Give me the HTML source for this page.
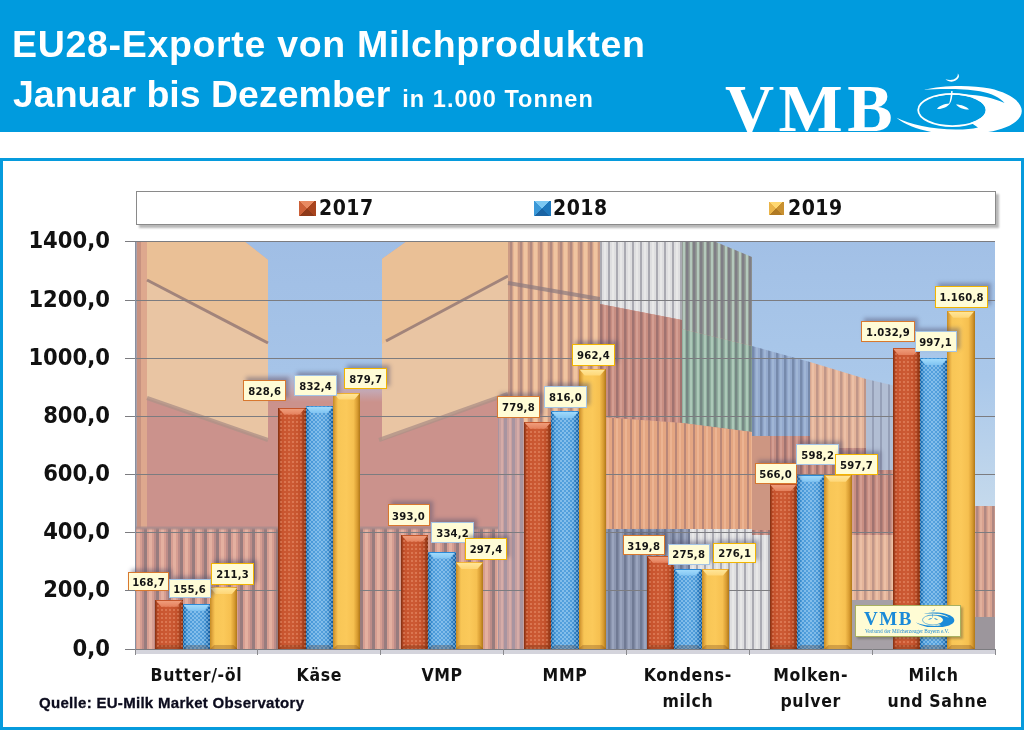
<!DOCTYPE html>
<html><head><meta charset="utf-8"><title>EU28-Exporte von Milchprodukten</title>
<style>
*{margin:0;padding:0;box-sizing:border-box}
html,body{width:1024px;height:730px;overflow:hidden;background:#fff}
body{position:relative;font-family:"Liberation Sans",sans-serif}
.banner{position:absolute;left:0;top:0;width:1024px;height:132px;background:#009bde}
.t1,.t2{position:absolute;color:#fff;font-weight:bold;white-space:nowrap;font-family:"Liberation Sans",sans-serif}
.t1{left:12px;top:23px;font-size:37.5px;letter-spacing:0.68px;line-height:42px}
.t2{left:13px;top:72.5px;font-size:37.5px;line-height:42px}
.t2 small{font-size:23.5px;letter-spacing:1.05px;margin-left:12px}
.vmb{position:absolute;left:725px;top:74px;font-family:"Liberation Serif",serif;font-weight:bold;font-size:68px;color:#fff;letter-spacing:4.5px;line-height:68px;height:58px;overflow:hidden}
.swirl{position:absolute;left:894px;top:72px}
.frame{position:absolute;left:0;top:158px;width:1024px;height:572px;border:3px solid #069bdd}
.legend{position:absolute;left:136px;top:191px;width:860px;height:34px;background:#fff;border:1px solid #8a8a8a;box-shadow:3px 3px 2px #b8b8b8}
.li{position:absolute}
.lr{background:conic-gradient(from -45deg,#e88a62 0 90deg,#a8441e 90deg 180deg,#8e3a1a 180deg 270deg,#cc6038 270deg 360deg)}
.lbl{background:conic-gradient(from -45deg,#7cc8f2 0 90deg,#1f78bc 90deg 180deg,#1a64a4 180deg 270deg,#3a98d8 270deg 360deg)}
.ly{background:conic-gradient(from -45deg,#ffd870 0 90deg,#c89030 90deg 180deg,#b07a24 180deg 270deg,#eab448 270deg 360deg)}
.lt{position:absolute;top:4px;font:bold 21px "DejaVu Sans Condensed","DejaVu Sans",sans-serif;font-stretch:condensed;color:#111;letter-spacing:0.5px}
.photo{position:absolute;left:135px;top:242px}
.gl{position:absolute;left:135px;width:860px;height:1px;background:#7c7c80}
.yt{position:absolute;left:125px;width:10px;height:1px;background:#7c7c80}
.yl{position:absolute;left:10px;width:100px;text-align:right;font:bold 23.5px "DejaVu Sans Condensed","DejaVu Sans",sans-serif;font-stretch:condensed;color:#111;line-height:26px}
.xl{position:absolute;top:663.2px;width:120px;text-align:center;font:bold 17.5px "DejaVu Sans Condensed","DejaVu Sans",sans-serif;font-stretch:condensed;color:#111;line-height:25.6px;letter-spacing:0.65px}
.xt{position:absolute;top:649px;width:1px;height:6px;background:#8a8a8e}
.axis{position:absolute;left:125px;top:649px;width:870px;height:1px;background:#7c7c80}
.axsh{position:absolute;left:135px;top:650px;width:860px;height:4px;background:#d4d4dc}
.vax{position:absolute;left:135px;top:242px;width:1px;height:408px;background:#8890a0}
.bar{position:absolute}
.bar.r{background:radial-gradient(circle,rgba(255,185,150,0.32) 0 0.7px,transparent 1px) 1px 0/4px 4px,linear-gradient(90deg,#7e3012 0,#a8401e 1.5px,#c8542e 4px,#cc5a34 50%,#c4522c 78%,#9c3c1a 94%,#7a2e10 100%)}
.bar.b{background:radial-gradient(circle,rgba(200,232,255,0.42) 0 0.7px,transparent 1px) 0 0/4px 4px,radial-gradient(circle,rgba(200,232,255,0.42) 0 0.7px,transparent 1px) 2px 2px/4px 4px,linear-gradient(90deg,#145c9c 0,#2278bc 2px,#4898d8 4.5px,#56a2de 50%,#4a98d6 78%,#2270b4 92%,#145896 100%)}
.bar.y{background:linear-gradient(90deg,#c48a24 0,#e2a840 2.5px,#f8c656 5px,#fbc95a 50%,#f6c050 76%,#d89c32 90%,#b07818 100%)}
.bar::before{content:"";position:absolute;left:0;right:0;top:0;height:7px;clip-path:polygon(0 0,100% 0,calc(100% - 6px) 100%,6px 100%)}
.bar.r::before{background:linear-gradient(180deg,#c4562c 0,#c4562c 1px,#ee9a78 1.5px,#e4805c 100%)}
.bar.b::before{background:linear-gradient(180deg,#2a8ad8 0,#2a8ad8 1px,#9ed8fa 1.5px,#80c4f2 100%)}
.bar.y::before{background:linear-gradient(180deg,#f0b030 0,#f0b030 1px,#ffe494 1.5px,#fed676 100%)}
.bar::after{content:"";position:absolute;left:0;right:0;bottom:0;height:4px;background:rgba(90,40,10,0.25);clip-path:polygon(4px 0,calc(100% - 4px) 0,100% 100%,0 100%)}
.li::before,.li::after{display:none}
.lb{position:absolute;background:#fffcd6;border:1.5px solid;font:bold 11.2px "DejaVu Sans Condensed","DejaVu Sans",sans-serif;font-stretch:condensed;color:#141414;text-align:center;display:flex;align-items:center;justify-content:center;padding-top:1.5px;letter-spacing:0.2px;box-shadow:3px -3px 4px rgba(80,80,110,0.45)}
.quelle{position:absolute;left:39px;top:694px;font:bold 15px "Liberation Sans",sans-serif;letter-spacing:0.3px;color:#0c0c1e;-webkit-text-stroke:0.3px #0c0c1e}
.slogo{position:absolute;left:855px;top:605px;width:106px;height:32px;background:#fffcd4;border:1.5px solid #a8b060;box-shadow:2px 2px 2px rgba(80,80,60,0.4)}
.slogo .v{position:absolute;left:8px;top:2px;font:bold 19px "Liberation Serif",serif;color:#1a8ad8;letter-spacing:1.6px}
.slogo svg{position:absolute;left:59px;top:2px}
.slogo .s{position:absolute;left:9px;top:21.5px;font:5.3px "Liberation Serif",serif;color:#1a8ad8;white-space:nowrap;letter-spacing:0px}
</style></head><body>
<div class="banner"></div>
<div class="t1">EU28-Exporte von Milchprodukten</div>
<div class="t2">Januar bis Dezember<small>in 1.000 Tonnen</small></div>
<div class="vmb">VMB</div>
<svg class="swirl" width="130" height="60" viewBox="0 0 130 60">
<path fill="#fff" d="M51.5,7.2 C55,10.8 62,10.6 64.6,5.6 C65.3,4.2 65,2.8 63.8,1.6 C64.4,6.2 59,9.6 51.5,7.2 Z"/>
<path fill="#fff" d="M30.5,17.6 C46,13.6 76,12.2 96,16.6 C113,20.5 127.8,28.5 127.8,39 C127.8,50 110,58.6 90,60.5 L40,60.5 C25,58 10,52.5 2.5,45.8 C15,52.2 38,57.4 62,57.6 C72,57.6 78,57 84,55.5 L58.4,38 Z"/>
<ellipse cx="58.4" cy="38" rx="33.4" ry="15.3" fill="#009bde"/>
<path fill="#009bde" d="M30.5,17.6 C46,16.6 70,16.4 86,19.2 C98,21.5 106,25.5 110.5,31 C100,26 86,23 70,22.2 L58,22 C44,22.4 34,25.5 27,30 L22,30 Z"/>
<ellipse cx="58.4" cy="38" rx="34.2" ry="16.1" fill="none" stroke="#fff" stroke-width="1.8"/>
<path fill="#fff" d="M57.2,19 L58.6,19 C58.6,24.5 57.6,29 55.8,31.8 C53.5,35 48,37.5 43,37 C45,34 50.5,32 55.2,31.6 C56.2,28 56.9,23.5 57.2,19 Z"/>
<path fill="#fff" d="M62,32.4 C67,32.4 73,34.5 75,37.6 C70,37.8 64.5,35.5 62,32.4 Z"/>
</svg>
<div class="frame"></div>
<div class="legend">
<div class="li lr" style="left:162px;top:9px;width:17px;height:15px"></div><div class="lt" style="left:182px">2017</div>
<div class="li lbl" style="left:397px;top:8.5px;width:17px;height:15.5px"></div><div class="lt" style="left:416px">2018</div>
<div class="li ly" style="left:632px;top:9.5px;width:15px;height:13px"></div><div class="lt" style="left:651px">2019</div>
</div>
<svg class="photo" width="860" height="408" viewBox="135 242 860 408">
<defs><pattern id="pStr" width="12" height="10" patternUnits="userSpaceOnUse"><rect x="0" y="0" width="12" height="10" fill="rgb(214,158,146)"/><rect x="0" y="0" width="3" height="10" fill="rgb(152,124,126)"/><rect x="5" y="0" width="3" height="10" fill="rgb(228,176,160)"/><rect x="10" y="0" width="2" height="10" fill="rgb(188,140,136)"/></pattern><pattern id="pOr" width="10" height="10" patternUnits="userSpaceOnUse"><rect x="0" y="0" width="10" height="10" fill="rgb(232,182,148)"/><rect x="0" y="0" width="2.5" height="10" fill="rgb(178,138,128)"/><rect x="4" y="0" width="3" height="10" fill="rgb(240,196,160)"/><rect x="8" y="0" width="2" height="10" fill="rgb(205,155,132)"/></pattern><pattern id="pOr2" width="9" height="10" patternUnits="userSpaceOnUse"><rect x="0" y="0" width="9" height="10" fill="rgb(228,166,130)"/><rect x="0" y="0" width="2" height="10" fill="rgb(185,135,120)"/><rect x="4" y="0" width="2" height="10" fill="rgb(236,180,146)"/></pattern><pattern id="pWh" width="8" height="10" patternUnits="userSpaceOnUse"><rect x="0" y="0" width="8" height="10" fill="rgb(222,222,224)"/><rect x="0" y="0" width="2" height="10" fill="rgb(170,170,178)"/><rect x="4" y="0" width="2" height="10" fill="rgb(232,232,232)"/></pattern><pattern id="pRd" width="8" height="10" patternUnits="userSpaceOnUse"><rect x="0" y="0" width="8" height="10" fill="rgb(200,142,130)"/><rect x="0" y="0" width="2.5" height="10" fill="rgb(160,115,112)"/><rect x="4" y="0" width="2" height="10" fill="rgb(212,158,146)"/></pattern><pattern id="pGd" width="7" height="10" patternUnits="userSpaceOnUse"><rect x="0" y="0" width="7" height="10" fill="rgb(150,160,152)"/><rect x="0" y="0" width="2.5" height="10" fill="rgb(128,126,134)"/><rect x="4" y="0" width="2" height="10" fill="rgb(180,200,188)"/></pattern><pattern id="pGl" width="7" height="10" patternUnits="userSpaceOnUse"><rect x="0" y="0" width="7" height="10" fill="rgb(146,176,160)"/><rect x="0" y="0" width="2.5" height="10" fill="rgb(118,136,132)"/><rect x="4" y="0" width="2" height="10" fill="rgb(172,200,184)"/></pattern><pattern id="pBg" width="8" height="10" patternUnits="userSpaceOnUse"><rect x="0" y="0" width="8" height="10" fill="rgb(140,150,176)"/><rect x="0" y="0" width="2.5" height="10" fill="rgb(112,122,148)"/><rect x="4" y="0" width="2" height="10" fill="rgb(155,165,190)"/></pattern><pattern id="pBc" width="8" height="10" patternUnits="userSpaceOnUse"><rect x="0" y="0" width="8" height="10" fill="rgb(148,170,206)"/><rect x="0" y="0" width="2.5" height="10" fill="rgb(118,138,172)"/><rect x="4" y="0" width="2" height="10" fill="rgb(160,182,214)"/></pattern><pattern id="pOc" width="8" height="10" patternUnits="userSpaceOnUse"><rect x="0" y="0" width="8" height="10" fill="rgb(228,180,154)"/><rect x="0" y="0" width="2.5" height="10" fill="rgb(192,150,136)"/><rect x="4" y="0" width="2" height="10" fill="rgb(236,192,166)"/></pattern><pattern id="pLb" width="8" height="10" patternUnits="userSpaceOnUse"><rect x="0" y="0" width="8" height="10" fill="rgb(178,190,212)"/><rect x="0" y="0" width="2" height="10" fill="rgb(150,160,184)"/></pattern><pattern id="pMv" width="8" height="10" patternUnits="userSpaceOnUse"><rect x="0" y="0" width="8" height="10" fill="rgb(198,160,160)"/><rect x="0" y="0" width="3" height="10" fill="rgb(168,148,160)"/><rect x="5" y="0" width="2" height="10" fill="rgb(214,172,168)"/></pattern><pattern id="pPk" width="8" height="10" patternUnits="userSpaceOnUse"><rect x="0" y="0" width="8" height="10" fill="rgb(216,162,144)"/><rect x="0" y="0" width="2.5" height="10" fill="rgb(176,136,130)"/><rect x="4" y="0" width="2" height="10" fill="rgb(226,176,156)"/></pattern><linearGradient id="gSky1" x1="0" y1="242" x2="0" y2="402" gradientUnits="userSpaceOnUse"><stop offset="0" stop-color="rgb(160,190,229)"/><stop offset="0.81" stop-color="rgb(166,196,232)"/><stop offset="0.93" stop-color="rgb(196,168,180)"/><stop offset="1" stop-color="rgb(203,146,140)"/></linearGradient><linearGradient id="gSky2" x1="0" y1="242" x2="0" y2="512" gradientUnits="userSpaceOnUse"><stop offset="0" stop-color="rgb(162,192,230)"/><stop offset="0.5" stop-color="rgb(170,200,234)"/><stop offset="1" stop-color="rgb(198,218,236)"/></linearGradient></defs>
<rect x="135" y="242" width="860" height="408" fill="rgb(203,146,140)"/>
<rect x="752" y="242" width="243" height="272" fill="url(#gSky2)"/>
<polygon points="245,242 406,242 382,259 382,402 268,402 268,260" fill="url(#gSky1)" />
<polygon points="135,242 245,242 268,260 268,440 135,394" fill="rgb(233,197,163)" />
<polygon points="135,242 245,242 268,260 268,343 147,280 135,275" fill="rgb(234,192,150)" />
<rect x="135" y="242" width="12" height="290" fill="rgb(222,168,142)"/>
<rect x="135" y="242" width="6" height="290" fill="rgb(200,146,128)"/>
<rect x="135" y="242" width="2" height="408" fill="rgb(170,160,170)"/>
<line x1="147" y1="280" x2="268" y2="343" stroke="rgb(150,122,118)" stroke-width="3" opacity="0.85"/>
<line x1="147" y1="398" x2="268" y2="440" stroke="rgb(176,146,136)" stroke-width="4" opacity="0.8"/>
<polygon points="406,242 508,242 508,394 382,440 382,259" fill="rgb(233,197,163)" />
<polygon points="406,242 508,242 508,276 382,344 382,259" fill="rgb(234,192,150)" />
<line x1="386" y1="341" x2="508" y2="276" stroke="rgb(150,122,118)" stroke-width="3" opacity="0.85"/>
<line x1="379" y1="440" x2="508" y2="394" stroke="rgb(176,146,136)" stroke-width="4" opacity="0.8"/>
<rect x="135" y="528" width="373" height="122" fill="url(#pStr)"/>
<line x1="135" y1="528" x2="508" y2="528" stroke="rgb(170,140,140)" stroke-width="3" opacity="0.8"/>
<rect x="508" y="242" width="92" height="408" fill="url(#pOr)"/>
<line x1="508" y1="283" x2="600" y2="299" stroke="rgb(140,122,126)" stroke-width="4" opacity="0.7"/>
<rect x="498" y="396" width="26" height="254" fill="url(#pMv)"/>
<polygon points="600,242 682,242 682,320 600,304" fill="url(#pWh)" />
<polygon points="600,304 682,320 682,423 600,417" fill="url(#pRd)" />
<polygon points="600,417 682,423 682,529 600,529" fill="url(#pOr2)" />
<rect x="600" y="529" width="90" height="121" fill="url(#pBg)"/>
<polygon points="682,242 752,242 752,346 682,329" fill="url(#pGd)" />
<polygon points="716,242 752,242 752,257" fill="url(#gSky2)" />
<polygon points="682,329 752,346 752,432 682,423" fill="url(#pGl)" />
<polygon points="682,423 752,432 752,529 682,529" fill="url(#pOr2)" />
<rect x="690" y="529" width="80" height="121" fill="url(#pWh)"/>
<polygon points="752,346 810,362 810,436 752,436" fill="url(#pBc)" />
<polygon points="810,362 866,379 866,448 810,448" fill="url(#pOc)" />
<polygon points="866,379 900,387 900,470 866,470" fill="url(#pLb)" />
<polygon points="752,436 810,436 810,448 866,448 866,470 900,470 900,535 752,535" fill="url(#pRd)" />
<rect x="752" y="436" width="18" height="94" fill="rgb(205,150,130)"/>
<rect x="770" y="535" width="130" height="65" fill="url(#pOc)"/>
<rect x="770" y="600" width="130" height="50" fill="rgb(166,160,166)"/>
<rect x="974" y="506" width="21" height="111" fill="url(#pPk)"/>
<rect x="974" y="617" width="21" height="33" fill="rgb(156,150,156)"/>
</svg>
<div class="gl" style="top:590px"></div>
<div class="gl" style="top:532px"></div>
<div class="gl" style="top:474px"></div>
<div class="gl" style="top:416px"></div>
<div class="gl" style="top:358px"></div>
<div class="gl" style="top:300px"></div>
<div class="gl" style="top:241px"></div>
<div class="vax"></div>
<div class="bar r" style="left:155.3px;top:599.8px;width:27.4px;height:49.2px"></div>
<div class="bar b" style="left:182.7px;top:603.7px;width:27.4px;height:45.3px"></div>
<div class="bar y" style="left:210.1px;top:587.4px;width:27.4px;height:61.6px"></div>
<div class="bar r" style="left:278.2px;top:407.5px;width:27.4px;height:241.5px"></div>
<div class="bar b" style="left:305.6px;top:406.4px;width:27.4px;height:242.6px"></div>
<div class="bar y" style="left:333.0px;top:392.6px;width:27.4px;height:256.4px"></div>
<div class="bar r" style="left:401.0px;top:534.5px;width:27.4px;height:114.5px"></div>
<div class="bar b" style="left:428.4px;top:551.6px;width:27.4px;height:97.4px"></div>
<div class="bar y" style="left:455.8px;top:562.3px;width:27.4px;height:86.7px"></div>
<div class="bar r" style="left:523.9px;top:421.7px;width:27.4px;height:227.3px"></div>
<div class="bar b" style="left:551.3px;top:411.2px;width:27.4px;height:237.8px"></div>
<div class="bar y" style="left:578.7px;top:368.5px;width:27.4px;height:280.5px"></div>
<div class="bar r" style="left:646.8px;top:555.8px;width:27.4px;height:93.2px"></div>
<div class="bar b" style="left:674.2px;top:568.6px;width:27.4px;height:80.4px"></div>
<div class="bar y" style="left:701.6px;top:568.5px;width:27.4px;height:80.5px"></div>
<div class="bar r" style="left:769.6px;top:484.1px;width:27.4px;height:164.9px"></div>
<div class="bar b" style="left:797.0px;top:474.7px;width:27.4px;height:174.3px"></div>
<div class="bar y" style="left:824.4px;top:474.8px;width:27.4px;height:174.2px"></div>
<div class="bar r" style="left:892.5px;top:348.0px;width:27.4px;height:301.0px"></div>
<div class="bar b" style="left:919.9px;top:358.4px;width:27.4px;height:290.6px"></div>
<div class="bar y" style="left:947.3px;top:310.7px;width:27.4px;height:338.3px"></div>
<div class="slogo"><div class="v">VMB</div><svg width="40" height="19" viewBox="0 0 130 60">
<path fill="#1a8ad8" d="M51.5,7.2 C55,10.8 62,10.6 64.6,5.6 C65.3,4.2 65,2.8 63.8,1.6 C64.4,6.2 59,9.6 51.5,7.2 Z"/>
<path fill="#1a8ad8" d="M30.5,17.6 C46,13.6 76,12.2 96,16.6 C113,20.5 127.8,28.5 127.8,39 C127.8,50 110,58.6 90,60.5 L40,60.5 C25,58 10,52.5 2.5,45.8 C15,52.2 38,57.4 62,57.6 C72,57.6 78,57 84,55.5 L58.4,38 Z"/>
<ellipse cx="58.4" cy="38" rx="33.4" ry="15.3" fill="#fffcd4"/>
<path fill="#fffcd4" d="M30.5,17.6 C46,16.6 70,16.4 86,19.2 C98,21.5 106,25.5 110.5,31 C100,26 86,23 70,22.2 L58,22 C44,22.4 34,25.5 27,30 L22,30 Z"/>
<ellipse cx="58.4" cy="38" rx="34.2" ry="16.1" fill="none" stroke="#1a8ad8" stroke-width="1.8"/>
<path fill="#1a8ad8" d="M57.2,19 L58.6,19 C58.6,24.5 57.6,29 55.8,31.8 C53.5,35 48,37.5 43,37 C45,34 50.5,32 55.2,31.6 C56.2,28 56.9,23.5 57.2,19 Z"/>
<path fill="#1a8ad8" d="M62,32.4 C67,32.4 73,34.5 75,37.6 C70,37.8 64.5,35.5 62,32.4 Z"/>
</svg><div class="s">Verband der Milcherzeuger Bayern e.V.</div></div>
<div class="lb" style="left:127.7px;top:571.6px;width:41.8px;height:19.9px;border-color:#d8782e">168,7</div>
<div class="lb" style="left:168.6px;top:578.5px;width:42.0px;height:19.9px;border-color:#a4c4e6">155,6</div>
<div class="lb" style="left:211.3px;top:563.0px;width:42.5px;height:22.0px;border-color:#f2b400">211,3</div>
<div class="lb" style="left:243.1px;top:380.3px;width:43.3px;height:20.3px;border-color:#d8782e">828,6</div>
<div class="lb" style="left:294.4px;top:375.3px;width:42.5px;height:20.3px;border-color:#a4c4e6">832,4</div>
<div class="lb" style="left:344.2px;top:368.1px;width:43.0px;height:20.8px;border-color:#f2b400">879,7</div>
<div class="lb" style="left:387.5px;top:504.4px;width:42.0px;height:21.9px;border-color:#d8782e">393,0</div>
<div class="lb" style="left:431.3px;top:521.9px;width:42.7px;height:21.6px;border-color:#a4c4e6">334,2</div>
<div class="lb" style="left:464.8px;top:538.0px;width:42.6px;height:21.9px;border-color:#f2b400">297,4</div>
<div class="lb" style="left:497.2px;top:396.3px;width:42.5px;height:21.4px;border-color:#d8782e">779,8</div>
<div class="lb" style="left:544.2px;top:386.2px;width:42.5px;height:21.4px;border-color:#a4c4e6">816,0</div>
<div class="lb" style="left:572.1px;top:343.6px;width:42.7px;height:22.1px;border-color:#f2b400">962,4</div>
<div class="lb" style="left:622.5px;top:535.3px;width:42.4px;height:20.1px;border-color:#d8782e">319,8</div>
<div class="lb" style="left:667.6px;top:543.5px;width:42.2px;height:21.1px;border-color:#a4c4e6">275,8</div>
<div class="lb" style="left:713.4px;top:542.5px;width:42.6px;height:20.1px;border-color:#f2b400">276,1</div>
<div class="lb" style="left:754.6px;top:463.4px;width:42.1px;height:20.8px;border-color:#d8782e">566,0</div>
<div class="lb" style="left:796.3px;top:444.3px;width:42.8px;height:21.1px;border-color:#a4c4e6">598,2</div>
<div class="lb" style="left:835.2px;top:454.1px;width:42.7px;height:20.5px;border-color:#f2b400">597,7</div>
<div class="lb" style="left:860.8px;top:320.5px;width:54.5px;height:21.9px;border-color:#d8782e">1.032,9</div>
<div class="lb" style="left:914.6px;top:330.5px;width:42.0px;height:21.9px;border-color:#a4c4e6">997,1</div>
<div class="lb" style="left:935.3px;top:286.1px;width:52.6px;height:21.6px;border-color:#f2b400">1.160,8</div>
<div class="axsh"></div>
<div class="axis"></div>
<div class="yl" style="top:634.8px">0,0</div>
<div class="yt" style="top:649px"></div>
<div class="yl" style="top:575.8px">200,0</div>
<div class="yt" style="top:590px"></div>
<div class="yl" style="top:517.8px">400,0</div>
<div class="yt" style="top:532px"></div>
<div class="yl" style="top:459.8px">600,0</div>
<div class="yt" style="top:474px"></div>
<div class="yl" style="top:401.8px">800,0</div>
<div class="yt" style="top:416px"></div>
<div class="yl" style="top:343.8px">1000,0</div>
<div class="yt" style="top:358px"></div>
<div class="yl" style="top:285.8px">1200,0</div>
<div class="yt" style="top:300px"></div>
<div class="yl" style="top:226.8px">1400,0</div>
<div class="yt" style="top:241px"></div>
<div class="xl" style="left:136.4px">Butter/-öl</div>
<div class="xl" style="left:259.3px">Käse</div>
<div class="xl" style="left:382.1px">VMP</div>
<div class="xl" style="left:505.0px">MMP</div>
<div class="xl" style="left:627.9px">Kondens-<br>milch</div>
<div class="xl" style="left:750.7px">Molken-<br>pulver</div>
<div class="xl" style="left:873.6px">Milch<br><span style='position:relative;left:4px'>und Sahne</span></div>
<div class="xt" style="left:134.5px"></div>
<div class="xt" style="left:257.4px"></div>
<div class="xt" style="left:380.2px"></div>
<div class="xt" style="left:503.1px"></div>
<div class="xt" style="left:625.9px"></div>
<div class="xt" style="left:748.8px"></div>
<div class="xt" style="left:871.6px"></div>
<div class="xt" style="left:994.5px"></div>
<div class="quelle">Quelle: EU-Milk Market Observatory</div>
</body></html>
